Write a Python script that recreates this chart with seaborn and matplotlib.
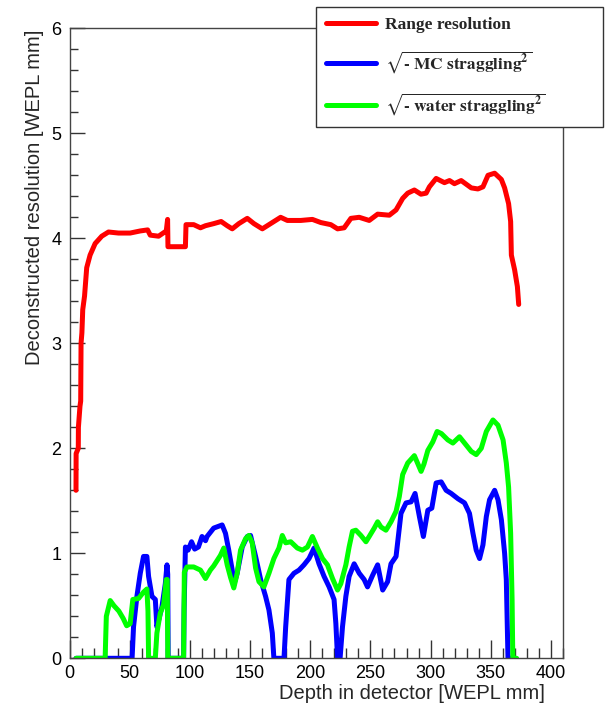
import matplotlib
matplotlib.use("Agg")
import numpy as np
import pandas as pd
import seaborn as sns
import matplotlib.pyplot as plt
from matplotlib.ticker import MultipleLocator

# ---------------- data ----------------
red_x = [5.4, 5.5, 7.3, 7.4, 8.7, 9.3, 9.6, 10.3, 11.0, 12.5, 14.3, 17.1, 21.3, 26.8, 32.4, 40.7,
         50.4, 58.8, 64.9, 67.1, 74.0, 80.4, 81.5, 81.8, 96.3, 96.8, 103.2, 108.8, 113.0, 119.9,
         126.0, 131.0, 135.2, 140.7, 147.7, 153.2, 160.2, 167.1, 175.4, 181.0, 192.1, 201.8, 208.8,
         217.1, 222.7, 228.2, 233.8, 240.7, 249.0, 256.0, 265.7, 271.3, 276.8, 281.0, 286.5, 292.0,
         296.3, 299.0, 304.6, 311.5, 315.7, 319.8, 325.4, 333.8, 339.3, 343.5, 347.7, 353.2, 358.8,
         361.5, 364.8, 366.5, 367.1, 369.8, 372.1, 373.2]
red_y = [1.60, 1.95, 2.00, 2.20, 2.40, 2.45, 3.00, 3.10, 3.32, 3.45, 3.72, 3.84, 3.95, 4.02, 4.06, 4.05,
         4.05, 4.07, 4.08, 4.03, 4.02, 4.07, 4.18, 3.92, 3.92, 4.13, 4.13, 4.10, 4.12, 4.14,
         4.16, 4.12, 4.09, 4.14, 4.19, 4.14, 4.09, 4.14, 4.20, 4.17, 4.17, 4.18, 4.15,
         4.13, 4.09, 4.10, 4.19, 4.20, 4.17, 4.23, 4.22, 4.27, 4.38, 4.43, 4.46, 4.42,
         4.43, 4.49, 4.57, 4.53, 4.55, 4.52, 4.55, 4.48, 4.47, 4.49, 4.60, 4.62, 4.56,
         4.48, 4.33, 4.16, 3.84, 3.70, 3.54, 3.37]

blue_x = [5.4, 52.0, 53.2, 56.0, 58.8, 61.5, 64.3, 65.7, 68.5, 71.3, 72.6, 74.0, 76.8, 79.6, 81.0,
          81.6, 82.0, 94.8, 95.2, 96.3, 98.5, 101.4, 104.0, 107.1, 110.1, 113.0, 114.3, 119.8, 126.8,
          129.6, 132.3, 135.2, 136.5, 139.3, 143.5, 147.7, 150.4, 154.6, 158.8, 162.9, 165.7, 168.5,
          169.8, 178.2, 179.6, 182.3, 186.5, 190.7, 194.8, 199.0, 203.2, 207.3, 211.5, 215.7, 219.8,
          221.3, 222.7, 224.8, 226.8, 229.6, 232.3, 236.5, 240.7, 244.8, 247.6, 251.8, 256.0, 260.2,
          264.3, 267.1, 271.3, 275.4, 279.6, 283.8, 287.1, 290.7, 294.0, 297.7, 301.0, 304.6, 308.8,
          312.9, 317.1, 322.7, 328.2, 332.3, 335.2, 337.9, 340.7, 343.5, 346.3, 349.0, 353.2, 356.0,
          358.8, 361.5, 362.9, 364.3, 366.5]
blue_y = [0.00, 0.00, 0.30, 0.59, 0.81, 0.97, 0.97, 0.78, 0.59, 0.56, 0.30, 0.36, 0.49, 0.71, 0.89,
          0.80, 0.00, 0.00, 0.46, 1.06, 1.03, 1.11, 1.04, 1.06, 1.16, 1.12, 1.16, 1.24, 1.27,
          1.19, 1.03, 0.84, 0.70, 0.81, 1.06, 1.16, 1.17, 0.97, 0.75, 0.59, 0.46, 0.24,
          0.00, 0.00, 0.30, 0.75, 0.81, 0.84, 0.89, 0.95, 1.05, 0.90, 0.78, 0.68, 0.56,
          0.33, 0.00, 0.00, 0.30, 0.59, 0.78, 0.90, 0.81, 0.75, 0.68, 0.79, 0.89, 0.65,
          0.73, 0.90, 0.97, 1.38, 1.48, 1.49, 1.57, 1.35, 1.16, 1.41, 1.43, 1.67, 1.68,
          1.60, 1.57, 1.52, 1.48, 1.38, 1.19, 1.03, 0.95, 1.08, 1.35, 1.51, 1.60, 1.51,
          1.32, 1.00, 0.75, 0.00, 0.00]

green_x = [5.4, 29.6, 30.6, 33.8, 37.0, 41.0, 44.6, 47.5, 50.4, 52.6, 57.4, 61.5, 64.3, 65.2, 65.7,
           71.3, 72.6, 75.4, 78.2, 80.4, 81.2, 81.7, 94.8, 95.4, 97.6, 103.2, 108.8, 113.0, 117.0,
           119.8, 125.4, 128.2, 131.0, 133.8, 136.5, 139.3, 142.1, 146.3, 149.0, 151.8, 154.6, 157.4,
           161.5, 165.7, 169.8, 174.0, 176.8, 179.6, 183.8, 189.3, 193.5, 197.7, 201.8, 206.0, 210.2,
           214.3, 218.5, 222.7, 225.4, 229.6, 232.3, 235.1, 237.9, 242.1, 246.3, 249.0, 253.2, 256.0,
           258.8, 262.9, 267.1, 271.3, 274.0, 276.8, 281.0, 286.5, 289.5, 292.1, 294.5, 297.7, 301.8,
           305.4, 309.0, 314.3, 318.5, 324.0, 328.2, 333.8, 337.9, 342.1, 346.3, 351.8, 356.0, 360.2,
           362.9, 364.8, 366.5, 367.7, 368.3, 371.5]
green_y = [0.00, 0.00, 0.40, 0.55, 0.50, 0.45, 0.38, 0.31, 0.33, 0.56, 0.57, 0.63, 0.66, 0.45, 0.00,
           0.00, 0.24, 0.43, 0.51, 0.75, 0.75, 0.00, 0.00, 0.82, 0.87, 0.87, 0.84, 0.76, 0.84,
           0.88, 0.98, 1.05, 0.89, 0.77, 0.67, 0.81, 1.03, 1.14, 1.17, 1.10, 0.86, 0.73,
           0.68, 0.81, 0.95, 1.05, 1.17, 1.10, 1.11, 1.05, 1.03, 1.06, 1.16, 1.05, 0.95,
           0.89, 0.76, 0.65, 0.71, 0.89, 1.06, 1.21, 1.22, 1.17, 1.11, 1.16, 1.24, 1.30,
           1.25, 1.22, 1.30, 1.40, 1.54, 1.75, 1.86, 1.93, 1.85, 1.78, 1.85, 1.98, 2.06,
           2.16, 2.14, 2.08, 2.05, 2.11, 2.05, 1.97, 1.94, 2.00, 2.16, 2.27, 2.22, 2.08,
           1.86, 1.63, 1.19, 0.56, 0.00, 0.00]

labels = ["Range resolution",
          "$\\sqrt{\\mathbf{\u2010\\ MC\\ straggling}^{\\mathbf{2}}}$",
          "$\\sqrt{\\mathbf{\u2010\\ water\\ straggling}^{\\mathbf{2}}}$"]
colors = ["#ff0000", "#0000ff", "#00ff00"]

x_ticks = [0, 50, 100, 150, 200, 250, 300, 350, 400]
y_ticks = [0, 1, 2, 3, 4, 5, 6]
x_label = "Depth in detector [WEPL mm]"
y_label = "Deconstructed resolution [WEPL mm]"

# ---------------- plot ----------------
sns.set_theme(style="white")
plt.rcParams["font.family"] = ["Liberation Sans", "DejaVu Sans"]
plt.rcParams["mathtext.fontset"] = "stix"

W, H = 608, 713
fig = plt.figure(figsize=(W / 100, H / 100), dpi=100)
L, R, T, B = 69.5, 563.0, 28.3, 658.3
ax = fig.add_axes([L / W, 1 - B / H, (R - L) / W, (B - T) / H])

series = [(red_x, red_y), (blue_x, blue_y), (green_x, green_y)]
for (xs, ys), lab, col in zip(series, labels, colors):
    df = pd.DataFrame({"x": xs, "y": ys})
    sns.lineplot(data=df, x="x", y="y", ax=ax, color=col, lw=3.6,
                 estimator=None, sort=False, label=lab)

ax.set_xlim(0, 410)
ax.set_ylim(0, 6)
ax.set_xticks(x_ticks)
ax.set_xticklabels([str(v) for v in x_ticks])
ax.set_yticks(y_ticks)
ax.set_yticklabels([str(v) for v in y_ticks])
ax.xaxis.set_minor_locator(MultipleLocator(10))
ax.yaxis.set_minor_locator(MultipleLocator(0.2))

ax.tick_params(axis="both", which="both", direction="in", bottom=True, left=True,
               top=False, right=False, colors="#333333", labelcolor="black",
               labelsize=13, width=1.0)
ax.tick_params(axis="x", which="major", length=13, pad=5)
ax.tick_params(axis="x", which="minor", length=7)
ax.tick_params(axis="y", which="major", length=11, pad=6)
ax.tick_params(axis="y", which="minor", length=6)
for s in ax.spines.values():
    s.set_color("#444444")
    s.set_linewidth(1.0)

ax.set_xlabel(x_label, fontsize=14.5, loc="right")
ax.set_ylabel(y_label, fontsize=14.5, loc="top")
ax.xaxis.set_label_coords((545 - L) / (R - L), -(684 - B) / (B - T))
ax.yaxis.set_label_coords(-(L - 44) / (R - L), (B - 30) / (B - T))

leg = ax.legend(loc="upper left", bbox_to_anchor=(316 / W, 1 - 127 / H, 287 / W, 120 / H),
                bbox_transform=fig.transFigure, mode="expand", borderaxespad=0.0,
                frameon=True, fancybox=False,
                edgecolor="#333333", framealpha=1.0, borderpad=0.55, labelspacing=0.95,
                handlelength=2.9, handletextpad=0.55,
                prop={"family": "Liberation Serif", "weight": "bold", "size": 12.5})
leg.get_frame().set_linewidth(1.0)
for h in leg.get_lines():
    h.set_linewidth(3.6)

fig.savefig("out.png", dpi=100)
